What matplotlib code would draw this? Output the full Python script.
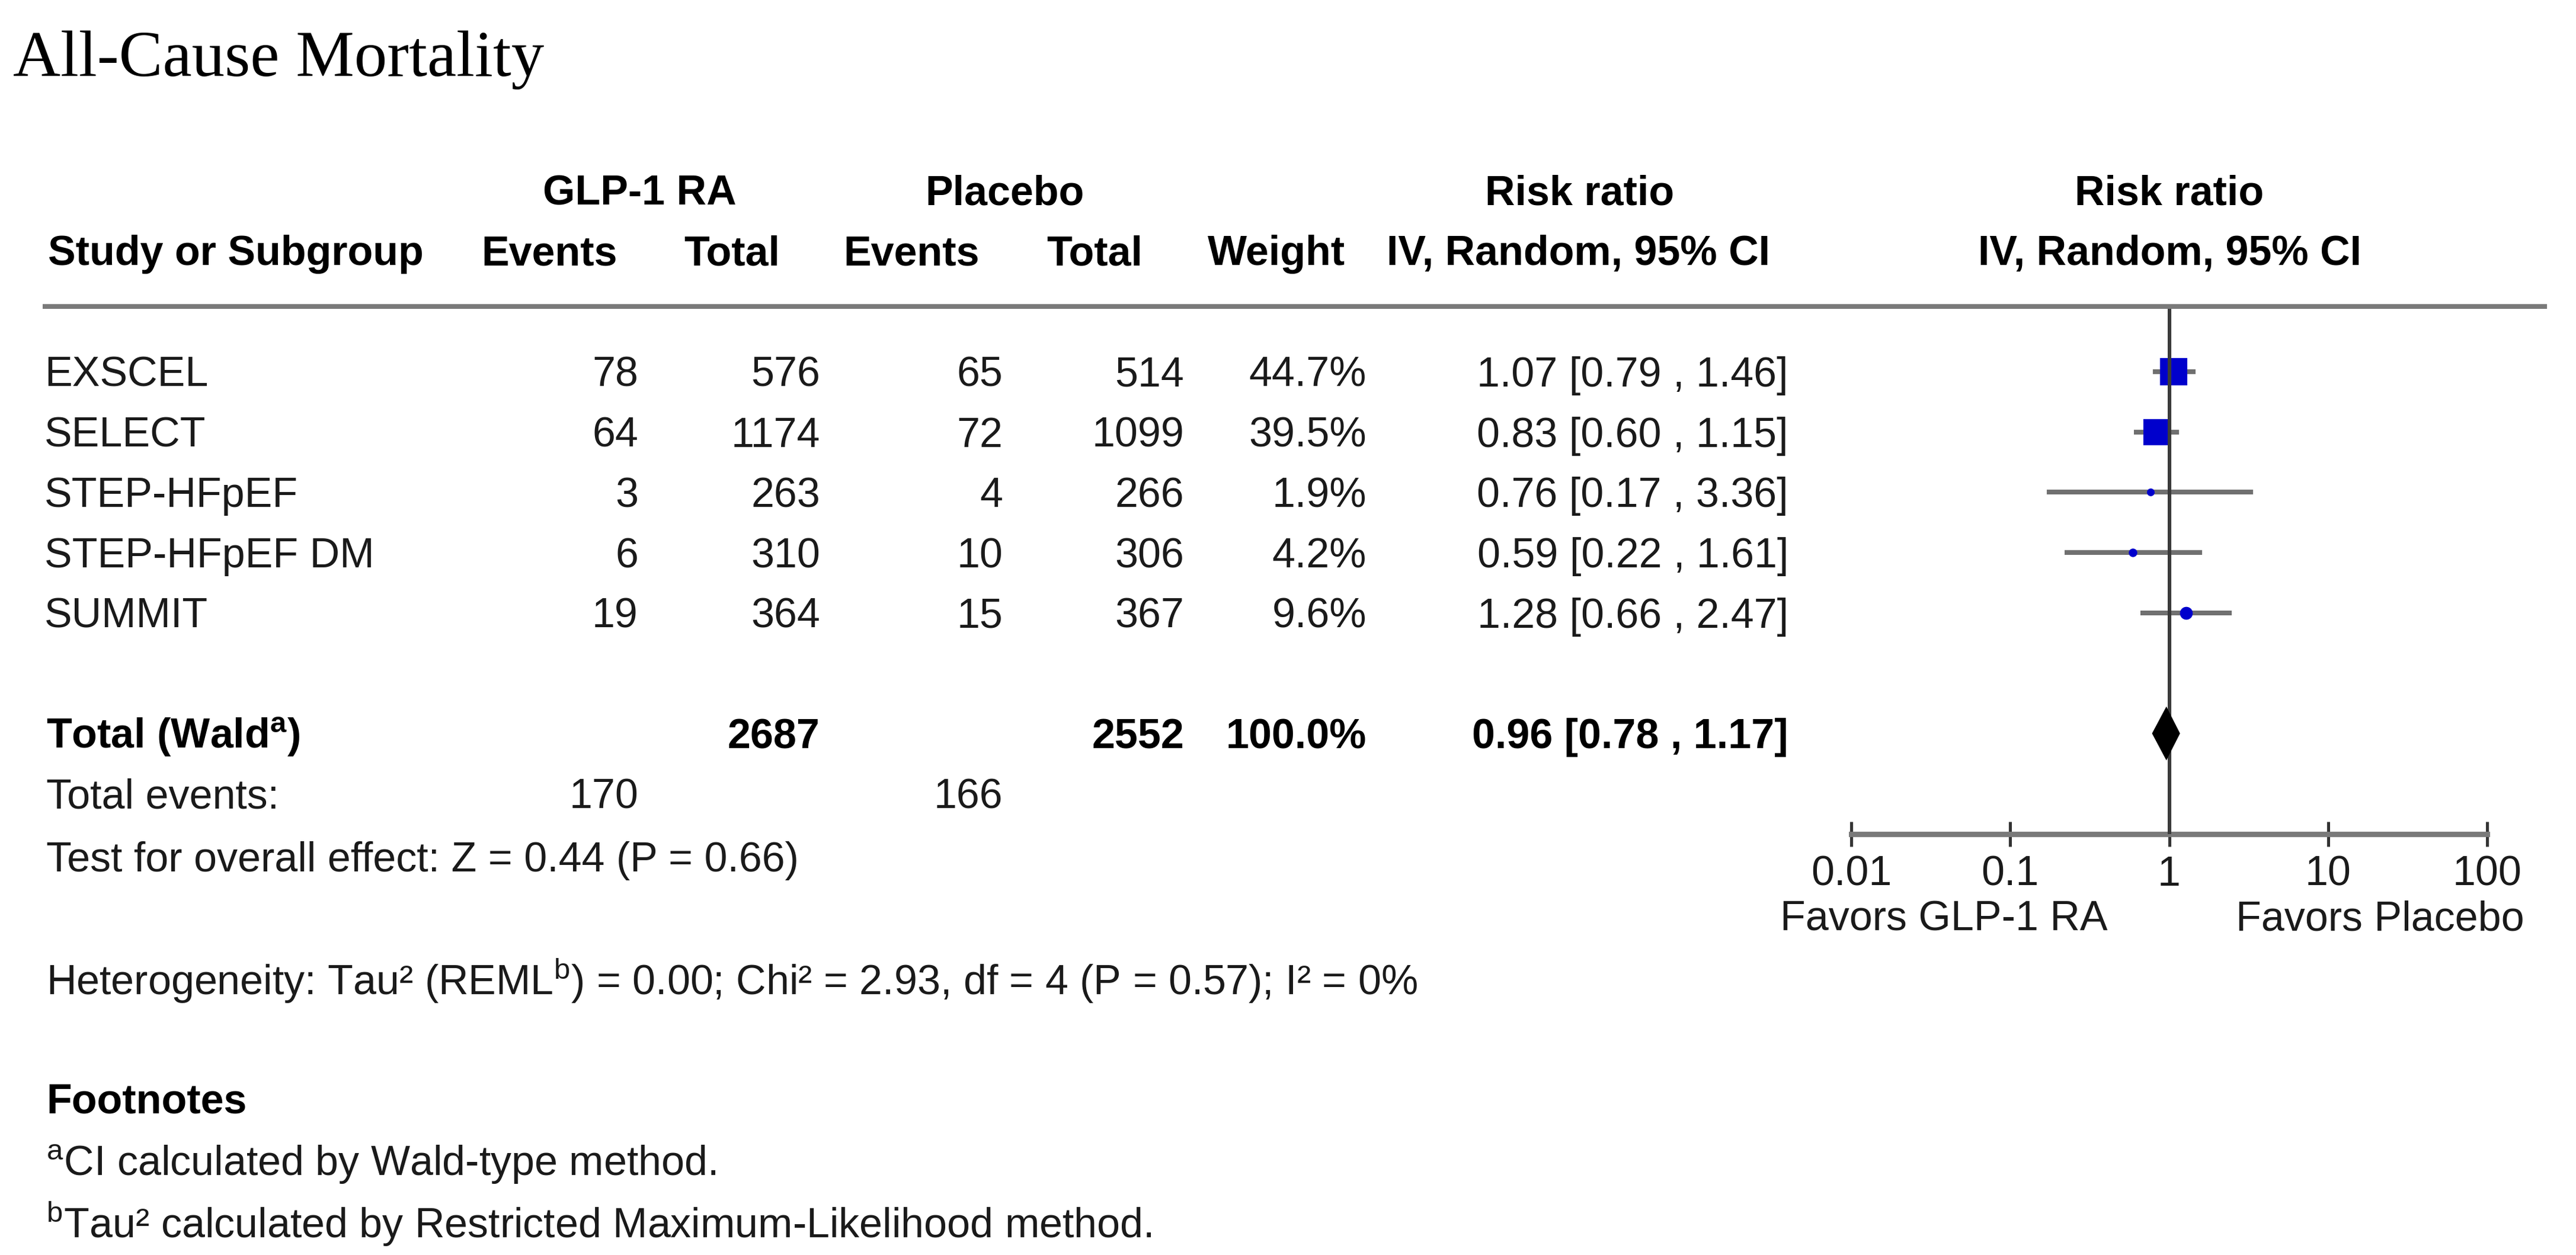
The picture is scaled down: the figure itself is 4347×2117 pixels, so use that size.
"""
Forest plot: all-cause mortality, GLP-1 RA vs placebo
"""

import numpy as np
import matplotlib
matplotlib.use("Agg")
import matplotlib.pyplot as plt
from matplotlib.ticker import NullLocator

# --- data -----------------------------------------------------------------
studies = ["EXSCEL", "SELECT", "STEP-HFpEF", "STEP-HFpEF DM", "SUMMIT"]
glp_events = [78, 64, 3, 6, 19]
glp_total = [576, 1174, 263, 310, 364]
pbo_events = [65, 72, 4, 10, 15]
pbo_total = [514, 1099, 266, 306, 367]
weights = [44.7, 39.5, 1.9, 4.2, 9.6]
rr = [1.07, 0.83, 0.76, 0.59, 1.28]
rr_lo = [0.79, 0.60, 0.17, 0.22, 0.66]
rr_hi = [1.46, 1.15, 3.36, 1.61, 2.47]

pooled = [0.96, 0.78, 1.17]          # estimate, lower, upper
pooled_weight = 100.0
pooled_totals = [2687, 2552]         # GLP-1 RA, placebo
pooled_events = [170, 166]
axis_ticks = [0.01, 0.1, 1, 10, 100]
tick_labels = ["0.01", "0.1", "1", "10", "100"]

overall_text = "Test for overall effect: Z = 0.44 (P = 0.66)"
hetero_text = "Heterogeneity: Tau² (REML$^{b}$) = 0.00; Chi² = 2.93, df = 4 (P = 0.57); I² = 0%"
footnotes = ["$^{a}$CI calculated by Wald-type method.",
             "$^{b}$Tau² calculated by Restricted Maximum-Likelihood method."]

# --- layout (pixels) --------------------------------------------------------
W, H, DPI = 4347, 2117, 300
ROW0, ROW_H, BASE = 627, 101.7, 25
FS = 16.8
TXT = "#1a1a1a"


def px2pt(px):
    return px * 72.0 / DPI


def baseline(i):
    return ROW0 + i * ROW_H + BASE


plt.rcParams['font.family'] = ['Liberation Sans', 'DejaVu Sans']
plt.rcParams['mathtext.fontset'] = 'custom'
plt.rcParams['mathtext.rm'] = 'Liberation Sans'
plt.rcParams['mathtext.default'] = 'regular'

fig = plt.figure(figsize=(W / DPI, H / DPI), dpi=DPI)
fig.patch.set_facecolor('white')

# full-figure canvas for the table text
cv = fig.add_axes([0, 0, 1, 1])
cv.set_xlim(0, W)
cv.set_ylim(H, 0)
cv.axis('off')

cv.text(22, 128, "All-Cause Mortality", family=['Liberation Serif', 'DejaVu Serif'],
        fontsize=26.6, va='baseline', color='black')

# headers
hdr = dict(fontsize=FS, fontweight='bold', va='baseline', color='black')
cv.text(1079, 346, "GLP-1 RA", ha='center', **hdr)
cv.text(1695, 346, "Placebo", ha='center', **hdr)
cv.text(2666, 346, "Risk ratio", ha='center', **hdr)
cv.text(3661, 346, "Risk ratio", ha='center', **hdr)
cv.text(81, 447, "Study or Subgroup", ha='left', **hdr)
for x, lab in [(927, "Events"), (1235, "Total"), (1538, "Events"), (1847, "Total"),
               (2154, "Weight"), (2664, "IV, Random, 95% CI"), (3661, "IV, Random, 95% CI")]:
    cv.text(x, 447, lab, ha='center', **hdr)

cv.plot([72, 4298], [517, 517], color='#7a7a7a', lw=px2pt(8), solid_capstyle='butt')

# study rows
cols = [1077, 1384, 1692, 1998, 2306, 3018]
body = dict(fontsize=FS, va='baseline', color=TXT)
for i, name in enumerate(studies):
    y = baseline(i)
    cv.text(75, y, name, ha='left', **body)
    vals = [str(glp_events[i]), str(glp_total[i]), str(pbo_events[i]), str(pbo_total[i]),
            f"{weights[i]:.1f}%", f"{rr[i]:.2f} [{rr_lo[i]:.2f} , {rr_hi[i]:.2f}]"]
    for x, v in zip(cols, vals):
        cv.text(x, y, v, ha='right', **body)

# total row
y = baseline(6)
bold = dict(fontsize=FS, fontweight='bold', va='baseline', color='black')
cv.text(78, y, "Total (Wald$^{a}$)", ha='left', **bold)
cv.text(cols[1], y, str(pooled_totals[0]), ha='right', **bold)
cv.text(cols[3], y, str(pooled_totals[1]), ha='right', **bold)
cv.text(cols[4], y, f"{pooled_weight:.1f}%", ha='right', **bold)
cv.text(cols[5], y, f"{pooled[0]:.2f} [{pooled[1]:.2f} , {pooled[2]:.2f}]", ha='right', **bold)

y = baseline(7)
cv.text(78, y, "Total events:", ha='left', **body)
cv.text(cols[0], y, str(pooled_events[0]), ha='right', **body)
cv.text(cols[2], y, str(pooled_events[1]), ha='right', **body)

cv.text(78, 1470, overall_text, ha='left', **body)
cv.text(78, 1678, hetero_text, ha='left', **body)
cv.text(78, 1878, "Footnotes", ha='left', **bold)
cv.text(78, 1983, footnotes[0], ha='left', **body)
cv.text(78, 2088, footnotes[1], ha='left', **body)

cv.text(3280, 1570, "Favors GLP-1 RA", ha='center', **body)
cv.text(4016, 1570, "Favors Placebo", ha='center', **body)

# --- forest panel -----------------------------------------------------------
ax_left, ax_right, ax_top, ax_bot = 3124, 4197, 521, 1407
ax = fig.add_axes([ax_left / W, 1 - ax_bot / H, (ax_right - ax_left) / W, (ax_bot - ax_top) / H])
ax.patch.set_visible(False)
ax.set_xscale('log')
ax.set_xlim(axis_ticks[0], axis_ticks[-1])
ax.set_ylim((ax_bot - ROW0) / ROW_H, (ax_top - ROW0) / ROW_H)

rows = np.arange(len(studies))
ax.hlines(rows, rr_lo, rr_hi, color='#707070', lw=px2pt(8), zorder=2)
for i in rows:
    side = max(7.0 * np.sqrt(weights[i]), 13)
    marker = 's' if weights[i] > 20 else 'o'
    ax.plot(rr[i], i, marker=marker, ms=px2pt(side), color='#0000cc', mew=0, zorder=3)

ax.axvline(1, color='#3a3a3a', lw=px2pt(6), zorder=4)

# pooled diamond
half = 45.5 / ROW_H
ax.fill([pooled[1], pooled[0], pooled[2], pooled[0]], [6, 6 - half, 6, 6 + half],
        color='black', lw=0, zorder=5)

for s in ['left', 'right', 'top']:
    ax.spines[s].set_visible(False)
ax.spines['bottom'].set_color('#7a7a7a')
ax.spines['bottom'].set_linewidth(px2pt(9))
ax.set_yticks([])
ax.set_xticks(axis_ticks)
ax.set_xticklabels(tick_labels)
ax.xaxis.set_minor_locator(NullLocator())
ax.tick_params(axis='x', direction='inout', length=px2pt(42), width=px2pt(5),
               color='#333333', labelsize=FS, labelcolor=TXT, pad=3.6)

fig.savefig("out.png", dpi=DPI, facecolor='white')
